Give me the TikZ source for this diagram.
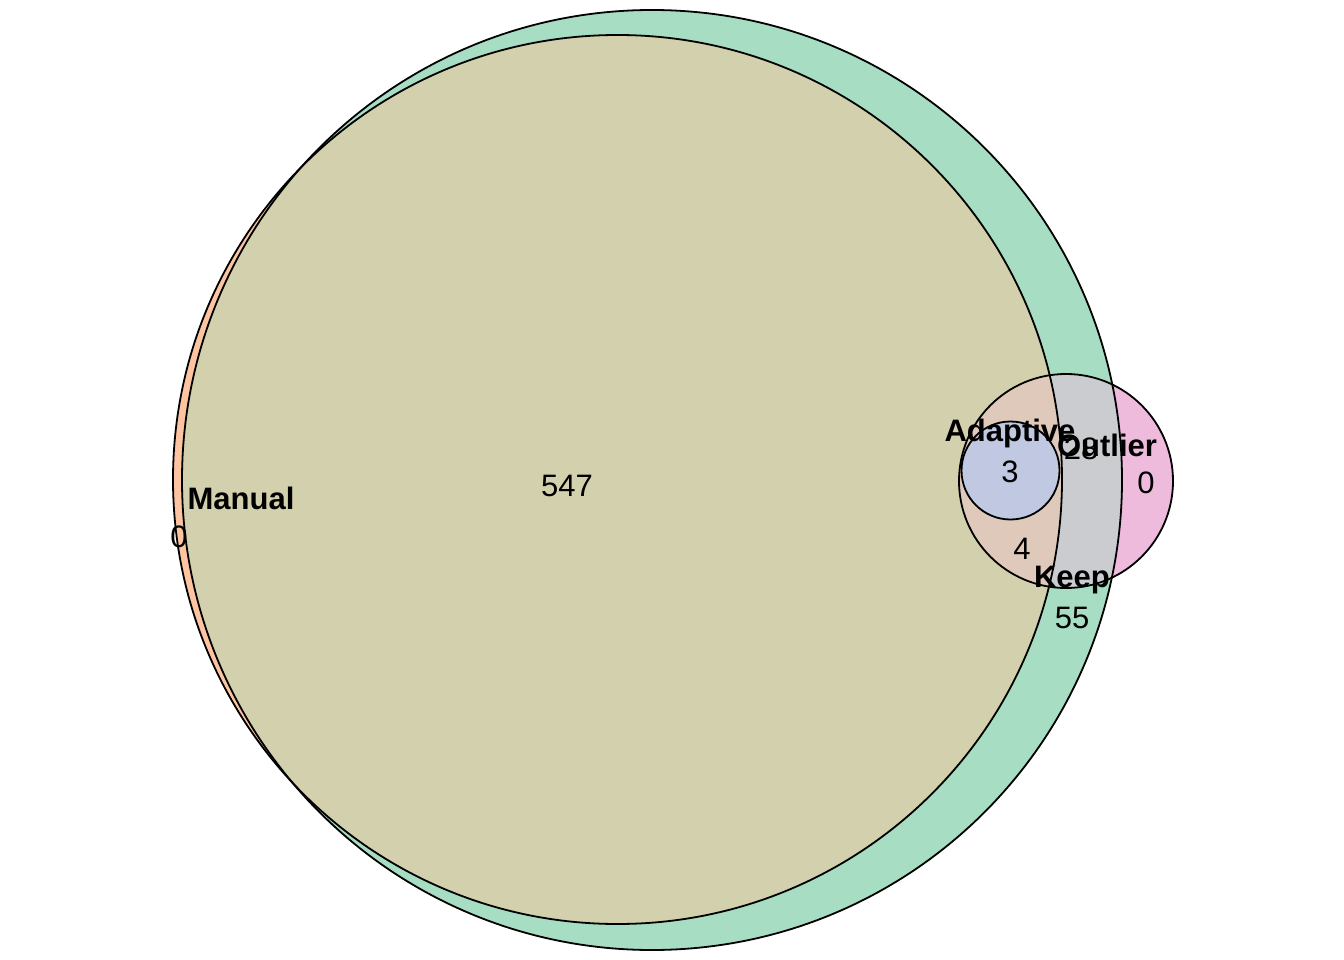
\documentclass[tikz,border=0pt]{standalone}
\usepackage{fontspec}
\setmainfont{Liberation Sans}
\definecolor{keeponly}{RGB}{166,221,195}
\definecolor{manonly}{RGB}{252,196,160}
\definecolor{mankeep}{RGB}{211,208,173}
\definecolor{outonly}{RGB}{238,187,221}
\definecolor{outkeep}{RGB}{202,204,207}
\definecolor{outmankeep}{RGB}{222,201,187}
\definecolor{adapt}{RGB}{192,200,226}
\tikzset{
  setlabel/.style={font=\fontsize{31}{35}\selectfont\bfseries, inner sep=0pt, anchor=center},
  countlabel/.style={font=\fontsize{31}{35}\selectfont, inner sep=0pt, anchor=center},
  outline/.style={draw=black, line width=1.8pt}
}
\begin{document}
\begin{tikzpicture}[x=1pt,y=-1pt]
\useasboundingbox (0,0) rectangle (1344,960);
\fill[white] (0,0) rectangle (1344,960);
\coordinate (keepc) at (652,480);
\coordinate (manc) at (617.5,479.5);
\coordinate (outc) at (1066,481);
\coordinate (adc) at (1010.5,470.5);
% regions
\fill[keeponly] (keepc) circle[radius=470];
\fill[manonly] (manc) circle[radius=444.5];
\begin{scope}
  \clip (manc) circle[radius=444.5];
  \fill[mankeep] (keepc) circle[radius=470];
\end{scope}
\fill[outonly] (outc) circle[radius=107];
\begin{scope}
  \clip (outc) circle[radius=107];
  \fill[outkeep] (keepc) circle[radius=470];
  \clip (manc) circle[radius=444.5];
  \fill[outmankeep] (keepc) circle[radius=470];
\end{scope}
\fill[adapt] (adc) circle[radius=49];
% outlines
\draw[outline] (keepc) circle[radius=470];
\draw[outline] (manc) circle[radius=444.5];
\draw[outline] (outc) circle[radius=107];
\draw[outline] (adc) circle[radius=49];
% labels
\node[countlabel] (n547) at (567,486) {547};
\node[setlabel] (lman) at (241,498) {Manual};
\node[countlabel] (nman) at (179,537) {0};
\node[countlabel] (n28) at (1081,449) {28};
\node[setlabel] (ladapt) at (1010,433) {Adaptive};
\node[countlabel] (n3) at (1010,472) {3};
\node[setlabel] (lout) at (1107,445) {Outlier};
\node[countlabel] (nout) at (1146,483) {0};
\node[countlabel] (n4) at (1022,549) {4};
\node[setlabel] (lkeep) at (1072,580) {Keep};
\node[countlabel] (n55) at (1072,618) {55};
\end{tikzpicture}
\end{document}
